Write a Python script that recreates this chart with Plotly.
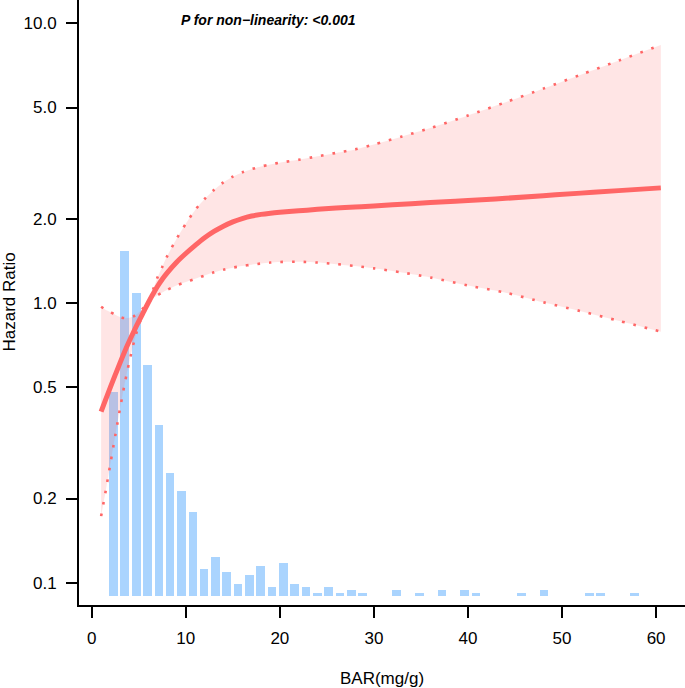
import plotly.graph_objects as go

# ---------------- data ----------------
# histogram of BAR (mg/g): bin centres and counts
bar_x = [2.32, 3.52, 4.73, 5.93, 7.14, 8.34, 9.54, 10.75, 11.95, 13.16,
         14.36, 15.56, 16.77, 17.97, 19.18, 20.38, 21.58, 22.79, 23.99, 25.20,
         26.40, 27.60, 28.81, 30.01, 31.22, 32.42, 33.62, 34.83, 36.03, 37.24,
         38.44, 39.64, 40.85, 42.05, 43.26, 44.46, 45.66, 46.87, 48.07, 49.28,
         50.48, 51.68, 52.89, 54.09, 55.30, 56.50, 57.70]
bar_counts = [68, 115, 101, 77, 57, 41, 35, 28, 9, 13,
              8, 4, 7, 10, 3, 11, 4, 3, 1, 3,
              1, 2, 1, 0, 0, 2, 0, 1, 0, 2,
              0, 2, 1, 0, 0, 0, 1, 0, 2, 0,
              0, 0, 1, 1, 0, 0, 1]

# restricted cubic spline fit: hazard ratio with 95% CI
x_fit = [1, 1.5, 2, 2.5, 3, 3.5, 4, 4.5, 5, 5.5, 6, 6.5, 7, 7.5, 8, 9, 10,
         11, 12, 13, 14, 15, 16, 17, 18, 19, 20, 22, 24, 26, 28, 30, 33, 36,
         40, 44, 48, 52, 56, 60.5]
hr = [0.409, 0.453, 0.501, 0.553, 0.610, 0.670, 0.731, 0.794, 0.859, 0.927,
      1.000, 1.074, 1.148, 1.216, 1.279, 1.396, 1.503, 1.607, 1.710, 1.802,
      1.882, 1.950, 2.004, 2.046, 2.074, 2.094, 2.110, 2.136, 2.162, 2.184,
      2.204, 2.224, 2.254, 2.285, 2.326, 2.368, 2.419, 2.471, 2.522, 2.580]
hr_lower = [0.173, 0.214, 0.268, 0.335, 0.417, 0.513, 0.617, 0.727, 0.832, 0.920,
            1.000, 1.040, 1.067, 1.090, 1.113, 1.155, 1.188, 1.220, 1.253, 1.287,
            1.316, 1.338, 1.356, 1.371, 1.384, 1.395, 1.402, 1.405, 1.395, 1.377,
            1.356, 1.330, 1.285, 1.234, 1.155, 1.089, 1.006, 0.935, 0.864, 0.790]
hr_upper = [0.970, 0.945, 0.928, 0.908, 0.892, 0.883, 0.885, 0.898, 0.925, 0.960,
            1.000, 1.110, 1.235, 1.345, 1.465, 1.690, 1.920, 2.150, 2.354, 2.537,
            2.699, 2.828, 2.930, 3.010, 3.075, 3.130, 3.175, 3.250, 3.344, 3.441,
            3.541, 3.688, 3.940, 4.220, 4.680, 5.220, 5.840, 6.550, 7.350, 8.360]

x_ticks = [0, 10, 20, 30, 40, 50, 60]
y_ticks = [0.1, 0.2, 0.5, 1, 2, 5, 10]
y_tick_text = ["0.1", "0.2", "0.5", "1.0", "2.0", "5.0", "10.0"]

# ---------------- style ----------------
RED = "rgb(255,102,102)"
BLUE = "rgb(170,212,254)"
FONT = "Liberation Sans, Arial, Helvetica, sans-serif"

fig = go.Figure()

fig.add_trace(go.Bar(x=bar_x, y=bar_counts, width=0.92,
                     marker=dict(color=BLUE, line=dict(width=0)),
                     xaxis="x", yaxis="y", hoverinfo="skip"))

fig.add_trace(go.Scatter(x=x_fit, y=hr_lower, mode="lines",
                         line=dict(width=0, shape="spline", smoothing=0.8),
                         xaxis="x", yaxis="y2", hoverinfo="skip"))
fig.add_trace(go.Scatter(x=x_fit, y=hr_upper, mode="lines", fill="tonexty",
                         fillcolor="rgba(255,102,102,0.17)",
                         line=dict(width=0, shape="spline", smoothing=0.8),
                         xaxis="x", yaxis="y2", hoverinfo="skip"))
for ci in (hr_lower, hr_upper):
    fig.add_trace(go.Scatter(x=x_fit, y=ci, mode="lines",
                             line=dict(color=RED, width=2.6, dash="2.6px,9px",
                                       shape="spline", smoothing=0.8),
                             xaxis="x", yaxis="y2", hoverinfo="skip"))
fig.add_trace(go.Scatter(x=x_fit, y=hr, mode="lines",
                         line=dict(color=RED, width=5, shape="spline"),
                         xaxis="x", yaxis="y2", hoverinfo="skip"))

axis_common = dict(ticks="outside", ticklen=11, tickwidth=2, tickcolor="black",
                   showline=True, linewidth=2, linecolor="black",
                   showgrid=False, zeroline=False,
                   tickfont=dict(family=FONT, size=17, color="black"))

fig.update_layout(
    width=685, height=688,
    margin=dict(l=79, r=0, t=0, b=83, autoexpand=False),
    plot_bgcolor="white", paper_bgcolor="white",
    showlegend=False, bargap=0,
    font=dict(family=FONT, color="black"),
    xaxis=dict(range=[-1.35, 63.07], tickvals=x_ticks, ticklabelstandoff=6,
               **axis_common),
    yaxis=dict(range=[-3, 198.7], visible=False, fixedrange=True),
    yaxis2=dict(type="log", overlaying="y", side="left",
                range=[-1.0797, 1.0833], tickvals=y_ticks, ticktext=y_tick_text,
                ticklabelstandoff=6, **axis_common),
    annotations=[
        dict(text="<b><i>P for non\u2212linearity: &lt;0.001</i></b>",
             xref="paper", yref="paper", x=0.1655, y=0.967,
             xanchor="left", yanchor="middle", showarrow=False,
             font=dict(family=FONT, size=14, color="black")),
        dict(text="BAR(mg/g)", xref="paper", yref="paper", x=0.5, y=-0.1207,
             xanchor="center", yanchor="middle", showarrow=False,
             font=dict(family=FONT, size=17, color="black")),
        dict(text="Hazard Ratio", xref="paper", yref="paper", x=-0.1155, y=0.5,
             xanchor="center", yanchor="middle", textangle=-90, showarrow=False,
             font=dict(family=FONT, size=17, color="black")),
    ],
)

fig.write_html("out.html", config={"displayModeBar": False},
               post_script="document.body.style.margin='0';")
